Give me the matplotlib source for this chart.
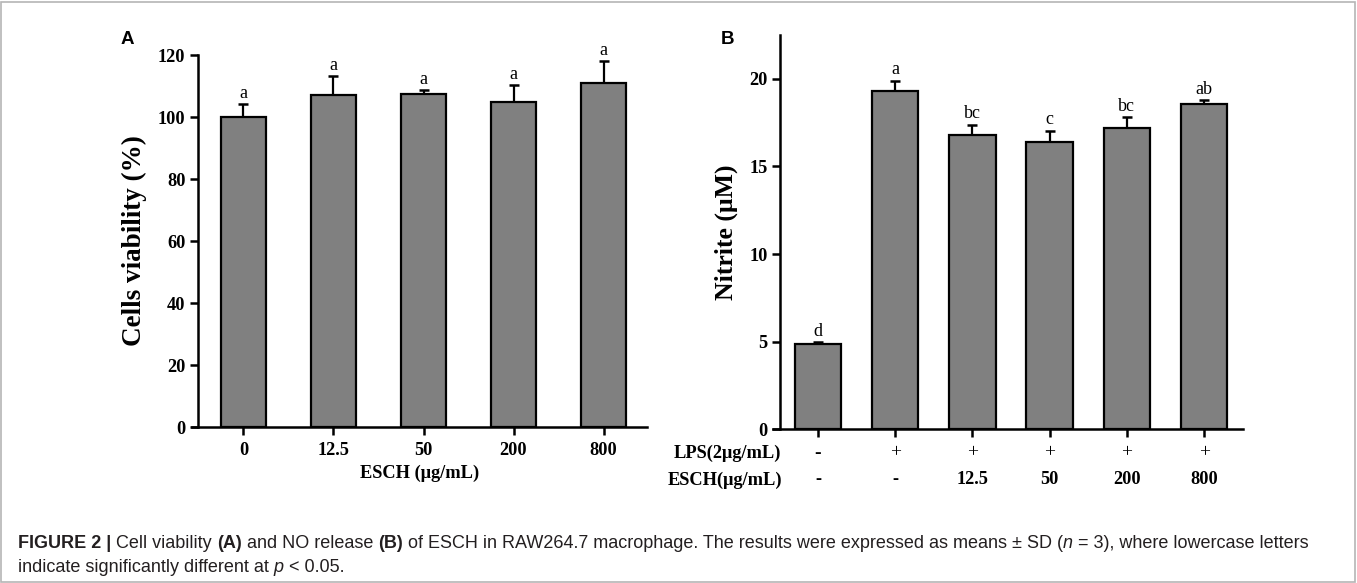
import matplotlib
matplotlib.use("Agg")
import matplotlib.pyplot as plt
from matplotlib.patches import Rectangle
import matplotlib.transforms as mtransforms

# ---------------- data ----------------
a_categories = ["0", "12.5", "50", "200", "800"]
a_values = [100.0, 107.0, 107.4, 104.8, 111.1]
a_errors = [4.1, 6.1, 1.4, 5.4, 6.9]
a_letters = ["a", "a", "a", "a", "a"]

b_lps = ["-", "+", "+", "+", "+", "+"]
b_esch = ["-", "-", "12.5", "50", "200", "800"]
b_values = [4.86, 19.33, 16.82, 16.40, 17.22, 18.57]
b_errors = [0.11, 0.57, 0.57, 0.65, 0.58, 0.21]
b_letters = ["d", "a", "bc", "c", "bc", "ab"]

a_yticks = [0, 20, 40, 60, 80, 100, 120]
b_yticks = [0, 5, 10, 15, 20]

W, H = 1357, 583
fig = plt.figure(figsize=(W / 100, H / 100), dpi=100)

SERIF = "Liberation Serif"
BAR_COLOR = "#808080"
TICK_SIZE = 13.2


def px_axes(x0, x1, y_top, y_bot):
    return fig.add_axes([x0 / W, 1 - y_bot / H, (x1 - x0) / W, (y_bot - y_top) / H])


def style_axes(ax, spine_x):
    ax.spines["top"].set_visible(False)
    ax.spines["right"].set_visible(False)
    ax.spines["left"].set_position(("data", spine_x))
    for s in ("left", "bottom"):
        ax.spines[s].set_linewidth(1.8)
    ax.tick_params(axis="both", direction="out", length=6, width=1.8, color="black")
    ax.patch.set_alpha(0)


# ---------------- panel A ----------------
axA = px_axes(192, 647, 55, 427)
xa = list(range(len(a_categories)))
axA.bar(xa, a_values, width=0.5, color=BAR_COLOR, edgecolor="black", linewidth=1.6, zorder=2)
axA.errorbar(xa, a_values, yerr=[[0] * len(a_errors), a_errors], fmt="none",
             ecolor="black", elinewidth=1.6, capsize=3.5, capthick=1.8, zorder=1)
for x, v, e, t in zip(xa, a_values, a_errors, a_letters):
    axA.annotate(t, (x, v + e), xytext=(0, 1.5), textcoords="offset points",
                 ha="center", va="bottom", fontsize=13, family=SERIF)
axA.set_xlim(-0.572, 4.483)
axA.set_ylim(0, 120)
axA.set_yticks(a_yticks)
axA.set_xticks(xa)
axA.set_xticklabels(a_categories)
style_axes(axA, -0.506)
for lab in axA.get_xticklabels() + axA.get_yticklabels():
    lab.set_fontfamily(SERIF)
    lab.set_fontweight("bold")
    lab.set_fontsize(TICK_SIZE)
axA.tick_params(axis="x", pad=5)
axA.tick_params(axis="y", pad=3)
axA.set_xlabel("ESCH (μg/mL)", fontfamily=SERIF, fontweight="bold", fontsize=TICK_SIZE, labelpad=4)
axA.set_ylabel("Cells viability (%)", fontfamily=SERIF, fontweight="bold", fontsize=19.5, labelpad=8)

# ---------------- panel B ----------------
axB = px_axes(773, 1242.7, 35, 429.3)
xb = list(range(len(b_values)))
axB.bar(xb, b_values, width=0.6, color=BAR_COLOR, edgecolor="black", linewidth=1.6, zorder=2)
axB.errorbar(xb, b_values, yerr=[[0] * len(b_errors), b_errors], fmt="none",
             ecolor="black", elinewidth=1.6, capsize=3.5, capthick=1.8, zorder=1)
for x, v, e, t in zip(xb, b_values, b_errors, b_letters):
    axB.annotate(t, (x, v + e), xytext=(0, 1.5), textcoords="offset points",
                 ha="center", va="bottom", fontsize=13, family=SERIF)
axB.set_xlim(-0.583, 5.5)
axB.set_ylim(0, 22.5)
axB.set_yticks(b_yticks)
axB.set_xticks(xb)
axB.set_xticklabels([""] * len(xb))
style_axes(axB, -0.49)
for lab in axB.get_yticklabels():
    lab.set_fontfamily(SERIF)
    lab.set_fontweight("bold")
    lab.set_fontsize(TICK_SIZE)
axB.tick_params(axis="y", pad=3)
axB.set_ylabel("Nitrite (μM)", fontfamily=SERIF, fontweight="bold", fontsize=18.5, labelpad=8)

trB = mtransforms.blended_transform_factory(axB.transData, fig.transFigure)
y_lps = 1 - 453 / H
y_esc = 1 - 480 / H
fig.text(781 / W, y_lps, "LPS(2μg/mL)", ha="right", va="center", fontfamily=SERIF,
         fontweight="bold", fontsize=TICK_SIZE)
fig.text(782 / W, y_esc, "ESCH(μg/mL)", ha="right", va="center", fontfamily=SERIF,
         fontweight="bold", fontsize=TICK_SIZE)
for x, s in zip(xb, b_lps):
    axB.text(x, y_lps, s, transform=trB, ha="center", va="center", fontfamily=SERIF,
             fontweight="bold" if s == "-" else "normal", fontsize=14)
for x, s in zip(xb, b_esch):
    axB.text(x, y_esc, s, transform=trB, ha="center", va="center", fontfamily=SERIF,
             fontweight="bold", fontsize=TICK_SIZE)

# ---------------- panel letters ----------------
fig.text(127 / W, 1 - 40 / H, "A", ha="center", va="center", fontfamily="Liberation Sans",
         fontweight="bold", fontsize=13.5)
fig.text(727 / W, 1 - 40 / H, "B", ha="center", va="center", fontfamily="Liberation Sans",
         fontweight="bold", fontsize=13.5)

# ---------------- caption ----------------
fig.canvas.draw()
renderer = fig.canvas.get_renderer()
CAP_SIZE = 12.95


def write_pieces(pieces, x_px, y_px):
    x = x_px
    for txt, weight, style in pieces:
        t = fig.text(x / W, 1 - y_px / H, txt, ha="left", va="center",
                     fontfamily="Liberation Sans", fontsize=CAP_SIZE,
                     fontweight=weight, fontstyle=style, color="#231f20")
        bb = t.get_window_extent(renderer=renderer)
        x = bb.x1


line1 = [("FIGURE 2 | ", "bold", "normal"), ("Cell viability ", "normal", "normal"),
         ("(A)", "bold", "normal"), (" and NO release ", "normal", "normal"),
         ("(B)", "bold", "normal"),
         (" of ESCH in RAW264.7 macrophage. The results were expressed as means ± SD (", "normal", "normal"),
         ("n", "normal", "italic"), (" = 3), where lowercase letters", "normal", "normal")]
line2 = [("indicate significantly different at ", "normal", "normal"), ("p", "normal", "italic"),
         (" < 0.05.", "normal", "normal")]
write_pieces(line1, 18, 543)
write_pieces(line2, 18, 567)

# ---------------- outer frame ----------------
fig.patches.append(Rectangle((1 / W, 1 / H), (W - 3) / W, (H - 3) / H, transform=fig.transFigure,
                             fill=False, edgecolor="#b5b5b5", linewidth=1.2))

fig.savefig("out.png", dpi=100)
